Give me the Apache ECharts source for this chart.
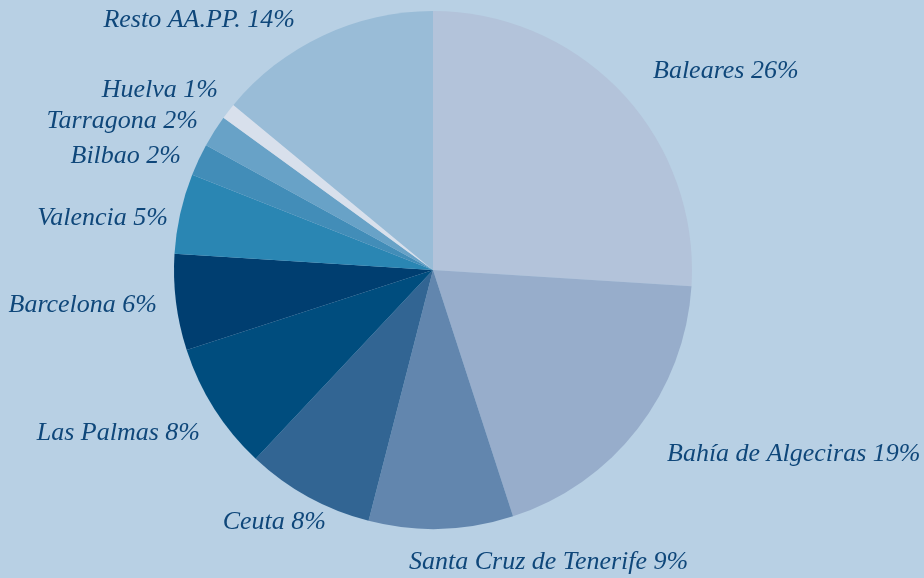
<!DOCTYPE html>
<html lang="es">
<head>
    <meta charset="UTF-8">
    <title>Reparto por autoridad portuaria</title>
    <script src="https://cdn.jsdelivr.net/npm/echarts@6/dist/echarts.min.js"></script>
    <style>
        html, body { margin: 0; padding: 0; background: #b8d0e4; }
        #main { width: 924px; height: 578px; }
    </style>
</head>
<body>
<div id="main"></div>
<script>
    // datos
    let puertos = ['Baleares', 'Bahía de Algeciras', 'Santa Cruz de Tenerife', 'Ceuta', 'Las Palmas',
        'Barcelona', 'Valencia', 'Bilbao', 'Tarragona', 'Huelva', 'Resto AA.PP.'];
    let porcentajes = [26, 19, 9, 8, 8, 6, 5, 2, 2, 1, 14];
    let colores = ['#b3c3da', '#97adcb', '#6286ae', '#326593', '#004d7e',
        '#003e70', '#2a86b3', '#428db8', '#68a2c7', '#d8e0ec', '#99bcd7'];

    // posición de cada etiqueta (x, y, alineación)
    let posEtiquetas = [
        [653, 71, 'left'], [667, 454, 'left'], [409, 562, 'left'], [326, 522, 'right'],
        [200, 433, 'right'], [157, 305, 'right'], [168, 218, 'right'], [181, 156, 'right'],
        [198, 121, 'right'], [218, 90, 'right'], [295, 20, 'right']
    ];

    let myChart = echarts.init(document.getElementById('main'));

    let option = {
        backgroundColor: '#b8d0e4',
        animation: false,
        series: [
            {
                type: 'pie',
                center: [433, 270],
                radius: 259,
                startAngle: 90,
                clockwise: true,
                itemStyle: { borderWidth: 0 },
                label: {
                    show: true,
                    formatter: function (p) { return p.name + ' ' + p.value + '%'; },
                    color: '#0f477a',
                    fontFamily: 'Liberation Serif',
                    fontStyle: 'italic',
                    fontSize: 26,
                    overflow: 'none'
                },
                labelLine: { show: false },
                labelLayout: function (params) {
                    let pos = posEtiquetas[params.dataIndex];
                    return { x: pos[0], y: pos[1], align: pos[2], verticalAlign: 'middle' };
                },
                emphasis: { disabled: true },
                data: puertos.map(function (n, i) {
                    return { name: n, value: porcentajes[i], itemStyle: { color: colores[i] } };
                })
            }
        ]
    };
    myChart.setOption(option);
</script>
</body>
</html>
